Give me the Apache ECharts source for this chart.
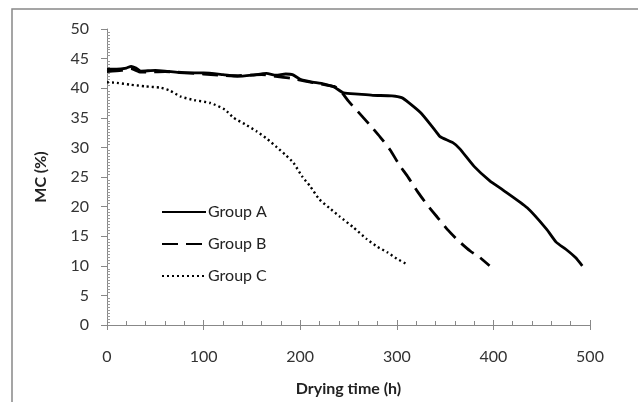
<!DOCTYPE html>
<html>
<head>
<meta charset="utf-8">
<script src="https://cdn.jsdelivr.net/npm/echarts@6/dist/echarts.min.js"></script>
<style>
  html, body { margin: 0; padding: 0; background: #fff; }
  #chart { width: 638px; height: 402px; }
</style>
</head>
<body>
<div id="chart"></div>
<script>
// drying curves
var seriesNames = ['Group A', 'Group B', 'Group C'];

var hoursA = [0, 10, 20, 25, 30, 35, 50, 60, 80, 100, 120, 135, 150, 165, 175, 185, 192, 200, 210, 225, 235, 245, 260, 275, 295, 305, 312, 325, 340, 345, 358, 365, 380, 396, 410, 435, 455, 465, 475, 485, 492];
var mcA    = [43.2, 43.2, 43.4, 43.7, 43.4, 42.9, 43.0, 42.9, 42.6, 42.6, 42.3, 42.0, 42.2, 42.5, 42.2, 42.4, 42.3, 41.5, 41.1, 40.7, 40.2, 39.2, 39.0, 38.8, 38.7, 38.4, 37.6, 35.8, 32.8, 31.8, 30.8, 29.8, 26.8, 24.4, 22.8, 19.8, 16.2, 14.0, 12.8, 11.4, 10.0];

var hoursB = [0, 15, 25, 35, 60, 100, 130, 160, 175, 190, 205, 225, 235, 241, 250, 260, 272, 283, 293, 302, 312, 322, 331, 342, 352, 364, 376, 386, 396];
var mcB    = [42.8, 43.0, 43.3, 42.7, 42.8, 42.4, 42.1, 42.3, 42.0, 41.7, 41.2, 40.6, 40.3, 39.7, 37.8, 36.0, 33.8, 31.7, 29.6, 27.2, 24.9, 22.4, 20.4, 18.2, 16.2, 14.2, 12.5, 11.4, 10.0];

var hoursC = [0, 10, 24, 40, 55, 65, 76, 90, 107, 122, 131, 143, 155, 166, 176, 185, 193, 202, 210, 220, 230, 241, 255, 269, 280, 290, 300, 310];
var mcC    = [41.0, 40.9, 40.6, 40.3, 40.1, 39.6, 38.6, 38.0, 37.5, 36.4, 35.0, 33.9, 32.7, 31.4, 30.0, 28.7, 27.4, 25.1, 23.5, 21.2, 19.8, 18.3, 16.5, 14.5, 13.2, 12.3, 11.2, 10.3];

function pairs(xs, ys) {
  return xs.map(function (x, i) { return [x, ys[i]]; });
}

var font = 'Lato';
var gridBox = { left: 107, right: 48, top: 29, bottom: 76 };

var option = {
  backgroundColor: '#fff',
  animation: false,
  graphic: [{
    type: 'rect',
    shape: { x: 12, y: 9, width: 640, height: 400 },
    style: { fill: 'none', stroke: '#888', lineWidth: 1.5 },
    silent: true
  }],
  legend: {
    orient: 'vertical',
    left: 156,
    top: 199,
    itemWidth: 44,
    itemHeight: 14,
    itemGap: 16,
    itemStyle: { opacity: 0 },
    textStyle: { fontFamily: font, fontSize: 16, color: '#222', padding: [0, 0, 0, -3] },
    data: seriesNames
  },
  grid: gridBox,
  xAxis: [{
    type: 'value',
    min: 0, max: 500, interval: 100,
    name: 'Drying time (h)',
    nameLocation: 'middle',
    nameGap: 56,
    nameTextStyle: { fontFamily: font, fontSize: 16, fontWeight: 'bold', color: '#222' },
    axisLine: { show: true, lineStyle: { color: '#888', width: 1 } },
    axisTick: { show: true, length: 5, lineStyle: { color: '#888' } },
    minorTick: { show: false },
    axisLabel: { fontFamily: font, fontSize: 16, color: '#333', margin: 24 },
    splitLine: { show: false }
  }, {
    type: 'value',
    min: 0, max: 500, interval: 100,
    position: 'bottom',
    axisLine: { show: false },
    axisTick: { show: true, inside: true, length: 5, lineStyle: { color: '#888' } },
    minorTick: { show: true, splitNumber: 5, length: 4, lineStyle: { color: '#888' } },
    axisLabel: { show: false },
    splitLine: { show: false }
  }],
  yAxis: [{
    type: 'value',
    min: 0, max: 50, interval: 5,
    name: 'MC (%)',
    nameLocation: 'middle',
    nameGap: 58,
    nameTextStyle: { fontFamily: font, fontSize: 16, fontWeight: 'bold', color: '#222' },
    axisLine: { show: true, lineStyle: { color: '#888', width: 1 } },
    axisTick: { show: true, length: 6, lineStyle: { color: '#888' } },
    axisLabel: { fontFamily: font, fontSize: 16, color: '#333', margin: 18 },
    splitLine: { show: false }
  }, {
    type: 'value',
    min: 0, max: 50, interval: 5,
    position: 'left',
    axisLine: { show: false },
    axisTick: { show: false, inside: true },
    minorTick: { show: true, splitNumber: 10, length: 3, lineStyle: { color: '#999' } },
    axisLabel: { show: false },
    splitLine: { show: false }
  }],
  series: [{
    name: seriesNames[0],
    type: 'line',
    showSymbol: false,
    symbol: 'none',
    smooth: 0.2,
    data: pairs(hoursA, mcA),
    lineStyle: { color: '#000', width: 2.8, type: 'solid' },
    itemStyle: { color: '#000' }
  }, {
    name: seriesNames[1],
    type: 'line',
    showSymbol: false,
    symbol: 'none',
    smooth: 0.2,
    data: pairs(hoursB, mcB),
    lineStyle: { color: '#000', width: 2.8, type: [16, 8] },
    itemStyle: { color: '#000' }
  }, {
    name: seriesNames[2],
    type: 'line',
    showSymbol: false,
    symbol: 'none',
    smooth: 0.2,
    data: pairs(hoursC, mcC),
    lineStyle: { color: '#000', width: 2.4, type: [2, 3] },
    itemStyle: { color: '#000' }
  }]
};

var myChart = echarts.init(document.getElementById('chart'));
myChart.setOption(option);
</script>
</body>
</html>
